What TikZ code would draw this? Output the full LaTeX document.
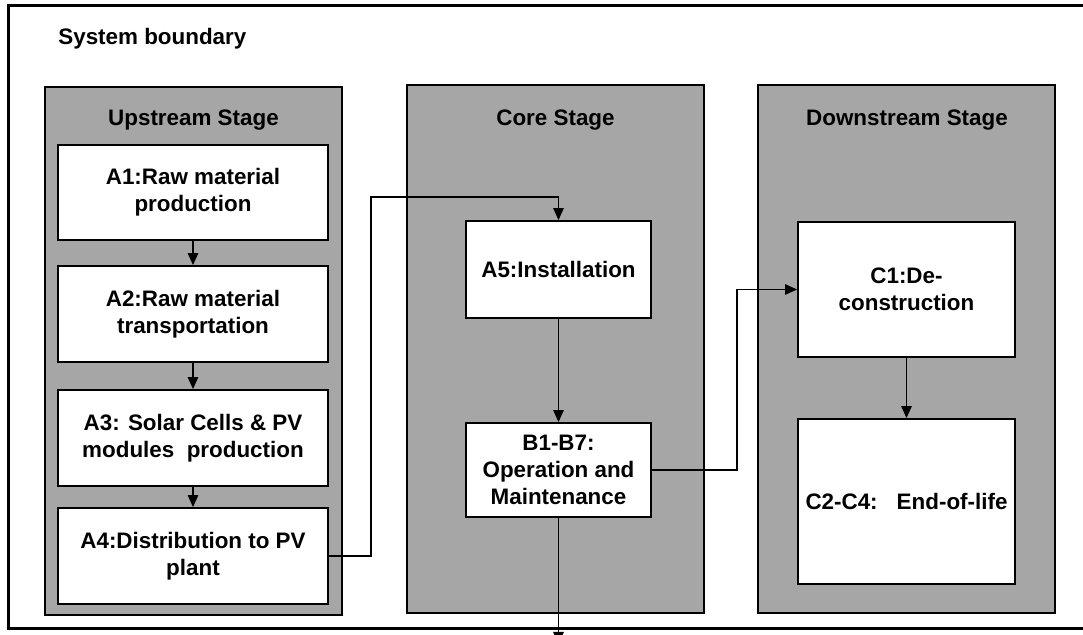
\documentclass[tikz,border=0pt]{standalone}
\usepackage{fontspec}
\setmainfont{Liberation Sans}
\usepackage{tikz}
\usepackage{xcolor}
\usetikzlibrary{arrows.meta}
\definecolor{stagegray}{RGB}{166,166,166}
\begin{document}
\begin{tikzpicture}[x=0.5pt,y=-0.5pt,
  font=\fontsize{11.2}{13.7}\selectfont\bfseries,
  stage/.style={draw,line width=1pt,fill=stagegray,minimum width=148.5pt,minimum height=264pt},
  title/.style={anchor=base},
  box/.style={draw,line width=0.9pt,fill=white,align=center,inner sep=0pt,minimum width=#1},
  box/.default=135pt,
  link/.style={line width=0.75pt,-{Triangle[length=6pt,width=5.2pt]}}]
\useasboundingbox (0,0) rectangle (1083,635);
\draw[line width=1.5pt] (8,6) rectangle (1100,629);
\node[anchor=base west,inner sep=0pt] (sysb) at (58,45) {System boundary};
\node[stage] (up) at (193.5,351.5) {};
\node[stage] (core) at (555.5,349) {};
\node[stage] (down) at (906.5,349.5) {};
\node[title] (upt) at (193.5,126) {Upstream Stage};
\node[title] (coret) at (555.5,126) {Core Stage};
\node[title] (downt) at (907,126) {Downstream Stage};
\node[box,minimum height=47.5pt] (a1) at (193,192.5) {A1:Raw material\\production};
\node[box,minimum height=48pt] (a2) at (193,314) {A2:Raw material\\transportation};
\node[box,minimum height=48pt] (a3) at (193,438) {A3: Solar Cells \& PV\\modules\ \ production};
\node[box,minimum height=48pt] (a4) at (193,556) {A4:Distribution to PV\\plant};
\node[box=92.5pt,minimum height=48.5pt] (a5) at (558.5,269.5) {A5:Installation};
\node[box=92.5pt,minimum height=47pt] (b1) at (558.5,470) {B1-B7:\\Operation and\\Maintenance};
\node[box=108.5pt,minimum height=67.5pt] (c1) at (906.5,289.5) {C1:De-\\construction};
\node[box=108.5pt,minimum height=82.5pt] (c2) at (906.5,501.5) {C2-C4:\hspace{0.85em}End-of-life};
\coordinate (out) at (558.5,644);
\draw[link] (a1) -- (a2);
\draw[link] (a2) -- (a3);
\draw[link] (a3) -- (a4);
\draw[link] (a4.east) -- (371,556) |- (558.5,197) -- (a5.north);
\draw[link] (a5) -- (b1);
\draw[link] (b1.east) -- (737,470) |- (c1.west);
\draw[link] (c1) -- (c2);
\draw[link] (b1.south) -- (out);
\end{tikzpicture}
\end{document}
